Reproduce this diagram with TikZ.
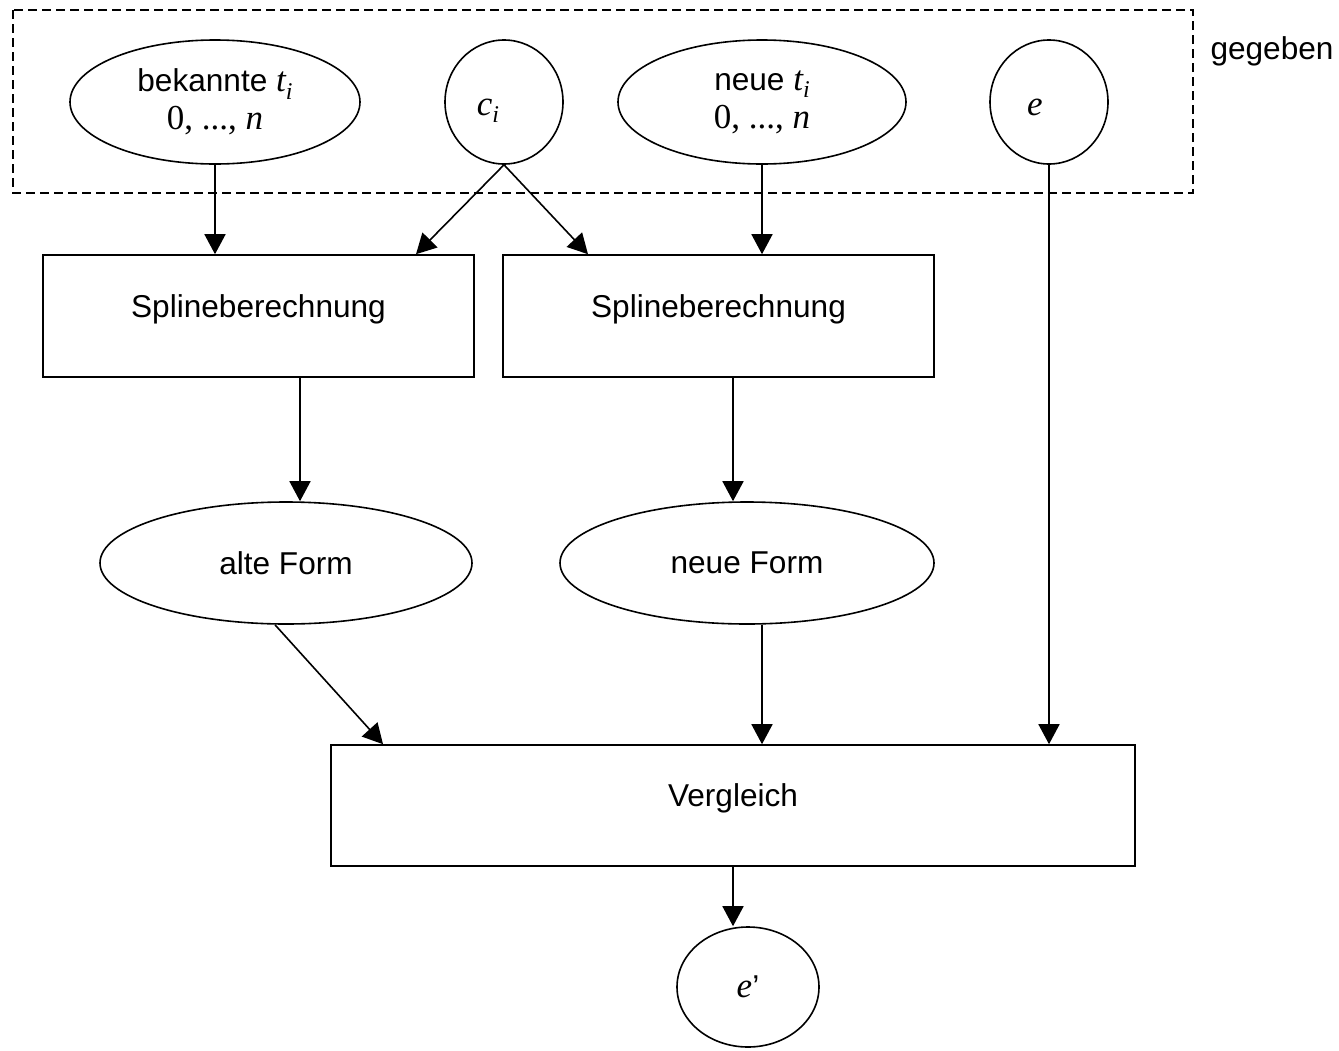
\documentclass[tikz,border=0pt]{standalone}
\usepackage{fontspec}
\setmainfont{Liberation Sans}
\newfontfamily\tms{Liberation Serif}
\usetikzlibrary{shapes.geometric,arrows.meta}
\newcommand{\mvar}[1]{{\fontsize{17.5}{19}\selectfont\tms\itshape #1}}
\newcommand{\msub}[1]{\raisebox{-0.45ex}{\fontsize{12}{12}\selectfont\tms\itshape #1}}
\begin{document}
\begin{tikzpicture}[x=0.5pt,y=-0.5pt,
  font=\fontsize{15.8}{19}\selectfont,
  ell/.style={ellipse, draw, line width=0.8pt, inner sep=0pt, align=center},
  box/.style={rectangle, draw, line width=0.8pt, inner sep=0pt, text depth=10pt},
  arr/.style={-{Triangle[length=10pt,width=10.5pt]}, line width=0.8pt},
  grp/.style={draw, dashed, dash pattern=on 4.5pt off 2.5pt, line width=0.8pt}]
\useasboundingbox (0,0) rectangle (1339,1050);
% group frame
\draw[grp] (13,10) rectangle (1193,193);
\node (geg) at (1272,51) {gegeben};
% given nodes
\node[ell, minimum width=145pt, minimum height=62pt] (bek) at (215,102) {bekannte \mvar{t}\msub{i}\\{\fontsize{17.5}{19}\selectfont\tms 0, ..., \itshape n}};
\node[ell, minimum width=59pt, minimum height=62pt, text height=16pt, text depth=3pt] (ci) at (504,102) {\mvar{c}\msub{i}\hspace*{16pt}};
\node[ell, minimum width=144pt, minimum height=62pt] (neu) at (762,102) {neue \mvar{t}\msub{i}\\{\fontsize{17.5}{19}\selectfont\tms 0, ..., \itshape n}};
\node[ell, minimum width=59pt, minimum height=62pt, text height=13pt, text depth=0pt] (e) at (1049,102) {\mvar{e}\hspace*{14pt}};
% processing
\node[box, minimum width=215.5pt, minimum height=61pt] (sp1) at (258.5,316) {Splineberechnung};
\node[box, minimum width=215.5pt, minimum height=61pt] (sp2) at (718.5,316) {Splineberechnung};
\node[ell, minimum width=186pt, minimum height=61pt] (alt) at (286,563) {alte Form};
\node[ell, minimum width=187pt, minimum height=61pt] (nf) at (747,563) {neue Form};
\node[box, minimum width=402pt, minimum height=60.5pt] (ver) at (733,805.5) {Vergleich};
\node[ell, minimum width=71pt, minimum height=60pt] (ep) at (748,987) {\mvar{e}’};
% helper coordinates
\coordinate (x416) at (416,0);
\coordinate (x588) at (588,0);
\coordinate (x300) at (300,0);
\coordinate (x733) at (733,0);
\coordinate (x275) at (275,0);
\coordinate (x383) at (383,0);
\coordinate (x762) at (762,0);
% connectors
\draw[arr] (bek.south) -- (bek.south |- sp1.north);
\draw[arr] (ci.south) -- (x416 |- sp1.north);
\draw[arr] (ci.south) -- (x588 |- sp2.north);
\draw[arr] (neu.south) -- (neu.south |- sp2.north);
\draw[arr] (e.south) -- (e.south |- ver.north);
\draw[arr] (x300 |- sp1.south) -- (x300 |- alt.north);
\draw[arr] (x733 |- sp2.south) -- (x733 |- nf.north);
\draw[arr] (x275 |- alt.south) -- (x383 |- ver.north);
\draw[arr] (x762 |- nf.south) -- (x762 |- ver.north);
\draw[arr] (x733 |- ver.south) -- (x733 |- ep.north);
\end{tikzpicture}
\end{document}
